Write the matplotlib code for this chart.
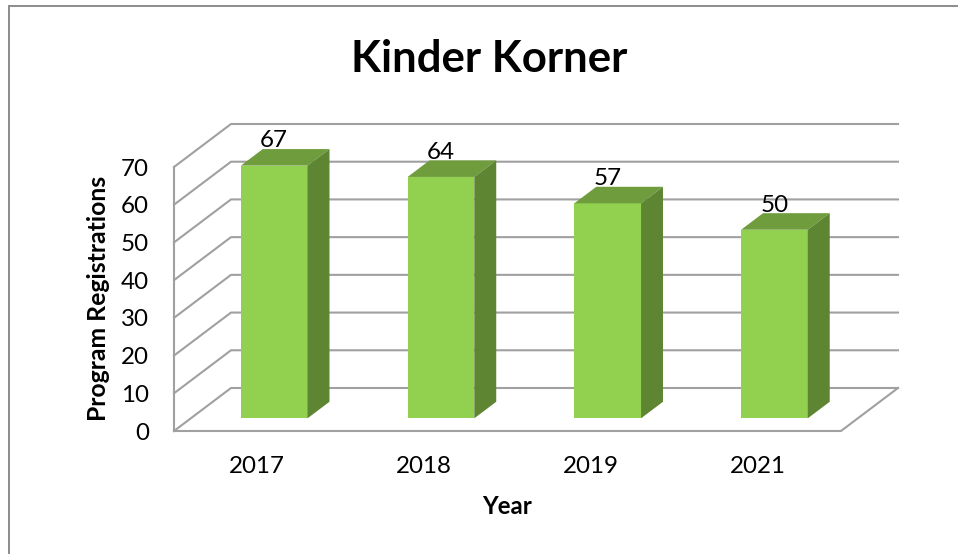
import matplotlib
matplotlib.use('Agg')
import matplotlib.pyplot as plt
from matplotlib.lines import Line2D
from matplotlib.patches import Polygon

years = ['2017', '2018', '2019', '2021']
registrations = [67, 64, 57, 50]
y_ticks = [0, 10, 20, 30, 40, 50, 60, 70]

title = 'Kinder Korner'
x_title = 'Year'
y_title = 'Program Registrations'

GRID = '#a0a0a0'
FRONT = '#92d050'
TOP = '#6f9c3c'
SIDE = '#5e8532'

W, H = 958, 554
# depth of the fake 3d box, in data units
DX = 57 / 166.75
DY = 43 / 3.771
BAR_W = 0.4
D0, D1 = 0.295, 0.68

plt.rcParams['font.family'] = ['Lato', 'DejaVu Sans']

fig = plt.figure(figsize=(W / 100, H / 100), dpi=100)
fig.add_artist(Line2D([9 / W, 9 / W], [0, 1 - 5.5 / H], color='#8c8c8c', lw=1.4))
fig.add_artist(Line2D([9 / W, 1], [1 - 5.5 / H, 1 - 5.5 / H], color='#8c8c8c', lw=1.4))

ax = fig.add_axes([174 / W, (H - 431) / H, 667 / W, 264 / H])
ax.set_xlim(0, len(years))
ax.set_ylim(0, 70)
for s in ax.spines.values():
    s.set_visible(False)
ax.patch.set_alpha(0)

n = len(years)
for v in y_ticks:
    ax.plot([0, DX, n + DX], [v, v + DY, v + DY], color=GRID, lw=1.5, clip_on=False, zorder=1)
ax.plot([0, 0], [0, 70], color=GRID, lw=1.5, clip_on=False, zorder=1)
ax.plot([0, n, n + DX], [0, 0, DY], color=GRID, lw=1.5, clip_on=False, zorder=1)

for i, v in enumerate(registrations):
    x0 = i + 0.5 - BAR_W / 2 + D0 * DX
    x1 = x0 + BAR_W
    y0 = D0 * DY
    y1 = v + D0 * DY
    sx = (D1 - D0) * DX
    sy = (D1 - D0) * DY
    ax.add_patch(Polygon([(x0, y0), (x1, y0), (x1, y1), (x0, y1)], fc=FRONT, ec='none', clip_on=False, zorder=3))
    ax.add_patch(Polygon([(x0, y1), (x1, y1), (x1 + sx, y1 + sy), (x0 + sx, y1 + sy)], fc=TOP, ec='none', clip_on=False, zorder=3))
    ax.add_patch(Polygon([(x1, y0), (x1 + sx, y0 + sy), (x1 + sx, y1 + sy), (x1, y1)], fc=SIDE, ec='none', clip_on=False, zorder=3))
    ax.annotate(str(v), xy=((x0 + x1) / 2, y1), xytext=(0, 17.8), textcoords='offset points',
                ha='center', va='center', fontsize=17.4, color='black', zorder=4, annotation_clip=False)

ax.set_xticks([i + 0.5 for i in range(n)])
ax.set_xticklabels(years, fontsize=17.4)
ax.set_yticks(y_ticks)
ax.set_yticklabels([str(v) for v in y_ticks], fontsize=17.4)
ax.tick_params(axis='both', length=0)
ax.tick_params(axis='x', pad=18)
ax.tick_params(axis='y', pad=18)

ax.set_xlabel(x_title, fontsize=17.4, fontweight='bold', va='center')
ax.xaxis.set_label_coords((507 - 174) / 667, (431 - 507) / 264)
ax.set_ylabel(y_title, fontsize=17.8, fontweight='bold', va='center')
ax.yaxis.set_label_coords((98 - 174) / 667, (431 - 298) / 264)

fig.text(489 / W, 1 - 59 / H, title, fontsize=31.5, fontweight='bold', ha='center', va='center')

fig.savefig('out.png', dpi=100)
